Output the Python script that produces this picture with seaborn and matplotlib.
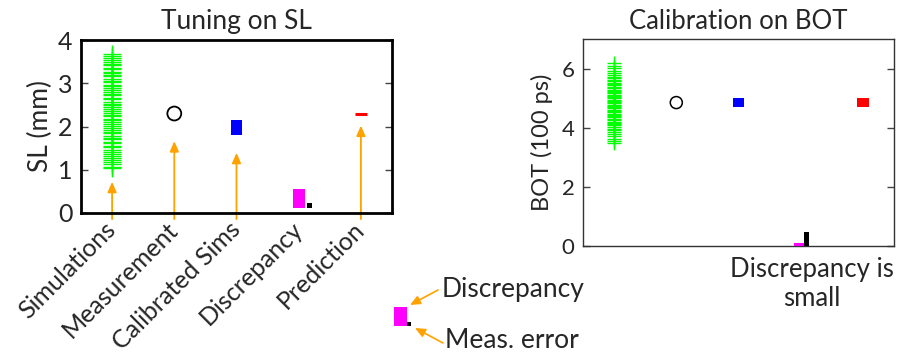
import numpy as np
import pandas as pd
import matplotlib
matplotlib.use("Agg")
import matplotlib.pyplot as plt
import seaborn as sns

# ---------------- data ----------------
categories = ["Simulations", "Measurement", "Calibrated Sims", "Discrepancy", "Prediction"]

# Tuning on SL (mm)
sl_sims = [1.03, 1.07, 1.13, 1.17, 1.22, 1.28, 1.32, 1.37, 1.42, 1.46, 1.52, 1.55, 1.61, 1.65,
           1.71, 1.74, 1.79, 1.84, 1.87, 1.93, 1.96, 2.02, 2.05, 2.11, 2.14, 2.18, 2.24, 2.27,
           2.32, 2.35, 2.41, 2.44, 2.50, 2.53, 2.57, 2.63, 2.66, 2.72, 2.75, 2.79, 2.85, 2.88,
           2.93, 2.97, 3.02, 3.06, 3.10, 3.16, 3.19, 3.24, 3.27, 3.33, 3.36, 3.42, 3.45, 3.50,
           3.54, 3.59, 3.63, 3.68]
sl_meas = 2.30
sl_calib = (1.80, 2.16)        # low, high
sl_discrepancy = (0.11, 0.55)  # low, high
sl_meas_error = (0.11, 0.23)   # low, high
sl_pred = 2.30
sl_arrow_tips = [0.72, 1.66, 1.39, None, 2.02]

# Calibration on BOT (100 ps)
bot_sims = [3.50, 3.56, 3.63, 3.71, 3.78, 3.85, 3.92, 3.97, 4.02, 4.08, 4.12, 4.17, 4.21, 4.26,
            4.30, 4.35, 4.39, 4.43, 4.48, 4.52, 4.56, 4.61, 4.65, 4.69, 4.73, 4.78, 4.82, 4.86,
            4.90, 4.95, 4.99, 5.03, 5.08, 5.12, 5.16, 5.21, 5.25, 5.29, 5.34, 5.38, 5.43, 5.47,
            5.52, 5.57, 5.62, 5.68, 5.73, 5.79, 5.86, 5.93, 6.01, 6.09, 6.20]
bot_meas = 4.85
bot_calib = (4.71, 4.99)
bot_discrepancy = (0.0, 0.10)
bot_meas_error = (0.0, 0.48)
bot_pred = (4.71, 4.99)

sl_yticks = [0, 1, 2, 3, 4]
bot_yticks = [0, 2, 4, 6]

ORANGE = "#ffa200"
GREEN = "#00ff00"
MAGENTA = "#ff00ff"
BLUE = "#0000ff"
RED = "#ff0000"

sns.set_theme(style="white")
plt.rcParams["font.family"] = ["Lato", "DejaVu Sans"]

W, H = 902, 360
fig = plt.figure(figsize=(W / 100, H / 100), dpi=100)


def ax_rect(x0, y0, x1, y1):
    return [x0 / W, 1 - y1 / H, (x1 - x0) / W, (y1 - y0) / H]


xs = np.arange(1, len(categories) + 1)
ARROW = dict(arrowstyle="-|>,head_length=0.5,head_width=0.22",
             color=ORANGE, lw=1.3, shrinkA=0, shrinkB=0)

# ---------------- left panel ----------------
ax1 = fig.add_axes(ax_rect(81, 40, 392, 213))
df1 = pd.DataFrame({"x": np.ones(len(sl_sims)), "y": sl_sims})
sns.scatterplot(data=df1, x="x", y="y", marker="+", s=150, color=GREEN,
                linewidth=1.0, ax=ax1, legend=False, zorder=3)
sns.scatterplot(x=[xs[1]], y=[sl_meas], marker="o", s=100, facecolor="none",
                edgecolor="black", linewidth=1.3, ax=ax1, legend=False, zorder=3)
ax1.bar(xs[2], sl_calib[1] - sl_calib[0], bottom=sl_calib[0], width=0.19,
        color=BLUE, edgecolor="none", zorder=3)
ax1.bar(xs[3], sl_discrepancy[1] - sl_discrepancy[0], bottom=sl_discrepancy[0],
        width=0.19, color=MAGENTA, edgecolor="none", zorder=3)
ax1.bar(xs[3] + 0.175, sl_meas_error[1] - sl_meas_error[0], bottom=sl_meas_error[0],
        width=0.08, color="black", edgecolor="none", zorder=3)
ax1.plot([xs[4]], [sl_pred], marker="_", markersize=9, markeredgewidth=2.2,
         color=RED, zorder=3)

for xi, tip in zip(xs, sl_arrow_tips):
    if tip is None:
        continue
    ax1.annotate("", xy=(xi, tip), xytext=(xi, -0.14), arrowprops=ARROW,
                 annotation_clip=False, zorder=2)

ax1.set_xlim(0.5, 5.5)
ax1.set_ylim(0, 3.93)
ax1.set_yticks(sl_yticks)
ax1.set_xticks(xs)
ax1.set_xticklabels(categories, rotation=45, ha="right", va="center",
                    rotation_mode="anchor", fontsize=18)
ax1.tick_params(axis="x", length=0, pad=9)
ax1.tick_params(axis="y", direction="in", length=5, width=1, left=True, right=True,
                labelsize=18, pad=6, color="#444444")
ax1.set_ylabel("SL (mm)", fontsize=19, labelpad=4)
ax1.set_xlabel("")
ax1.set_title("Tuning on SL", fontsize=19, pad=8)
for sp in ax1.spines.values():
    sp.set_visible(True)
    sp.set_linewidth(2.0)
    sp.set_color("black")

# ---------------- right panel ----------------
ax2 = fig.add_axes(ax_rect(583, 39, 894, 246))
df2 = pd.DataFrame({"x": np.ones(len(bot_sims)), "y": bot_sims})
sns.scatterplot(data=df2, x="x", y="y", marker="+", s=100, color=GREEN,
                linewidth=1.0, ax=ax2, legend=False, zorder=3)
sns.scatterplot(x=[xs[1]], y=[bot_meas], marker="o", s=75, facecolor="none",
                edgecolor="black", linewidth=1.1, ax=ax2, legend=False, zorder=3)
ax2.bar(xs[2], bot_calib[1] - bot_calib[0], bottom=bot_calib[0], width=0.19,
        color=BLUE, edgecolor="none", zorder=3)
ax2.bar(xs[3] - 0.03, bot_discrepancy[1] - bot_discrepancy[0], bottom=bot_discrepancy[0],
        width=0.16, color=MAGENTA, edgecolor="none", zorder=3)
ax2.bar(xs[3] + 0.09, bot_meas_error[1] - bot_meas_error[0], bottom=bot_meas_error[0],
        width=0.08, color="black", edgecolor="none", zorder=3)
ax2.bar(xs[4], bot_pred[1] - bot_pred[0], bottom=bot_pred[0], width=0.19,
        color=RED, edgecolor="none", zorder=3)

ax2.set_xlim(0.5, 5.5)
ax2.set_ylim(0, 7)
ax2.set_yticks(bot_yticks)
ax2.set_xticks([])
ax2.tick_params(axis="y", direction="in", length=5, width=1, left=True, right=True,
                labelsize=16, pad=6, color="#444444")
ax2.set_ylabel("BOT (100 ps)", fontsize=17, labelpad=6)
ax2.set_xlabel("")
ax2.set_title("Calibration on BOT", fontsize=18.5, pad=7)
for sp in ax2.spines.values():
    sp.set_visible(True)
    sp.set_linewidth(1.0)
    sp.set_color("#333333")

ax2.text(0.735, -0.055, "Discrepancy is\nsmall", transform=ax2.transAxes,
         ha="center", va="top", fontsize=18.5, linespacing=1.2)

# ---------------- key ----------------
key_disc = (307, 326)   # pixel span of key rectangle
key_err = (322, 326)
axk = fig.add_axes(ax_rect(380, 260, 600, 360))
axk.set_xlim(380, 600)
axk.set_ylim(360, 260)
axk.axis("off")
axk.bar(400.5, key_disc[1] - key_disc[0], bottom=key_disc[0], width=13,
        color=MAGENTA, edgecolor="none")
axk.bar(409, key_err[1] - key_err[0], bottom=key_err[0], width=4,
        color="black", edgecolor="none")
KARROW = dict(arrowstyle="-|>,head_length=0.5,head_width=0.22",
              color=ORANGE, lw=1.2, shrinkA=0, shrinkB=0)
axk.annotate("", xy=(410, 305), xytext=(438, 290), arrowprops=KARROW)
axk.annotate("", xy=(415, 328), xytext=(443, 343), arrowprops=KARROW)
axk.text(442, 289, "Discrepancy", fontsize=19, va="center", ha="left")
axk.text(445, 340, "Meas. error", fontsize=19, va="center", ha="left")

fig.savefig("out.png", dpi=100, facecolor="white")
